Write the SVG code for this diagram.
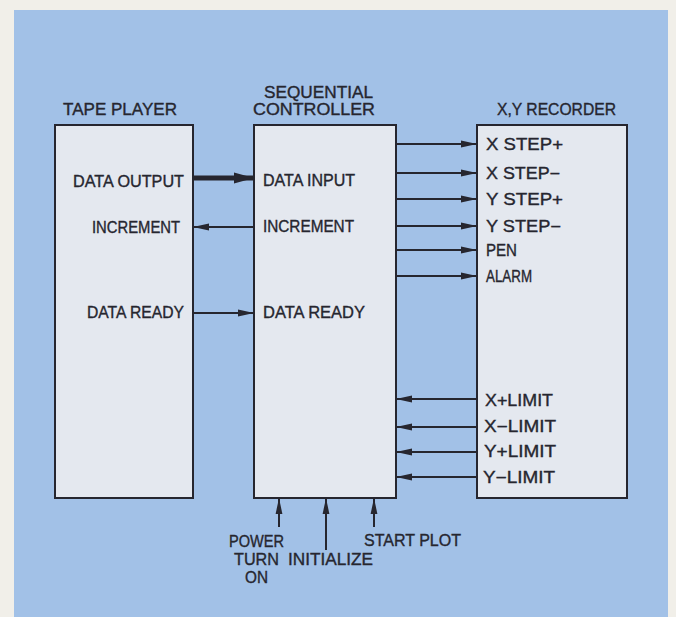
<svg xmlns="http://www.w3.org/2000/svg" width="676" height="617" viewBox="0 0 676 617">
<defs>
<style>
.box{fill:#e4e8ef;stroke:#26262f;stroke-width:2}
.ln{stroke:#26262f;stroke-width:2;fill:none}
.thick{stroke:#26262f;stroke-width:5;fill:none}
text{font-family:"Liberation Sans",Arial,sans-serif;font-size:16px;fill:#26262f;stroke:#26262f;stroke-width:0.35px}
</style>
<marker id="ah" markerUnits="userSpaceOnUse" markerWidth="18" markerHeight="10" refX="16" refY="4" orient="auto">
<path d="M0,0.6 L16,4 L0,7.4 z" fill="#26262f"/>
</marker>
<marker id="ahb" markerUnits="userSpaceOnUse" markerWidth="22" markerHeight="14" refX="20" refY="6" orient="auto">
<path d="M0,0.5 L20,6 L0,11.5 z" fill="#26262f"/>
</marker>
</defs>
<rect x="0" y="0" width="676" height="617" fill="#f1efe9"/>
<rect x="14" y="10" width="654" height="607" fill="#a2c1e7"/>

<g id="tape-player">
<text x="63" y="115" textLength="114" lengthAdjust="spacingAndGlyphs">TAPE PLAYER</text>
<rect class="box" x="55" y="125" width="138" height="373"/>
<text x="73" y="187" textLength="111" lengthAdjust="spacingAndGlyphs">DATA OUTPUT</text>
<text x="92" y="233" textLength="88" lengthAdjust="spacingAndGlyphs">INCREMENT</text>
<text x="87" y="318" textLength="97" lengthAdjust="spacingAndGlyphs">DATA READY</text>
</g>

<g id="sequential-controller">
<text x="264" y="98" textLength="109" lengthAdjust="spacingAndGlyphs">SEQUENTIAL</text>
<text x="253" y="115" textLength="122" lengthAdjust="spacingAndGlyphs">CONTROLLER</text>
<rect class="box" x="254" y="125" width="142" height="373"/>
<text x="263" y="186" textLength="92" lengthAdjust="spacingAndGlyphs">DATA INPUT</text>
<text x="263" y="232" textLength="91" lengthAdjust="spacingAndGlyphs">INCREMENT</text>
<text x="263" y="318" textLength="102" lengthAdjust="spacingAndGlyphs">DATA READY</text>
</g>

<g id="xy-recorder">
<text x="497" y="115" textLength="119" lengthAdjust="spacingAndGlyphs">X,Y RECORDER</text>
<rect class="box" x="477" y="125" width="150" height="373"/>
<text x="486" y="150" textLength="77" lengthAdjust="spacingAndGlyphs">X STEP+</text>
<text x="486" y="179" textLength="74" lengthAdjust="spacingAndGlyphs">X STEP−</text>
<text x="486" y="205" textLength="77" lengthAdjust="spacingAndGlyphs">Y STEP+</text>
<text x="486" y="232" textLength="75" lengthAdjust="spacingAndGlyphs">Y STEP−</text>
<text x="486" y="256" textLength="31" lengthAdjust="spacingAndGlyphs">PEN</text>
<text x="486" y="282" textLength="46" lengthAdjust="spacingAndGlyphs">ALARM</text>
<text x="485" y="406" textLength="68" lengthAdjust="spacingAndGlyphs">X+LIMIT</text>
<text x="484" y="432" textLength="72" lengthAdjust="spacingAndGlyphs">X−LIMIT</text>
<text x="484" y="457" textLength="72" lengthAdjust="spacingAndGlyphs">Y+LIMIT</text>
<text x="483" y="483" textLength="72" lengthAdjust="spacingAndGlyphs">Y−LIMIT</text>
</g>

<g id="inputs">
<text x="229" y="547" textLength="55" lengthAdjust="spacingAndGlyphs">POWER</text>
<text x="234" y="565" textLength="45" lengthAdjust="spacingAndGlyphs">TURN</text>
<text x="245" y="583" textLength="23" lengthAdjust="spacingAndGlyphs">ON</text>
<text x="288" y="565" textLength="85" lengthAdjust="spacingAndGlyphs">INITIALIZE</text>
<text x="364" y="546" textLength="97" lengthAdjust="spacingAndGlyphs">START PLOT</text>
</g>

<g id="connectors">
<line class="thick" x1="193" y1="178" x2="254" y2="178" marker-end="url(#ahb)"/>
<line class="ln" x1="254" y1="227" x2="193" y2="227" marker-end="url(#ah)"/>
<line class="ln" x1="193" y1="313" x2="254" y2="313" marker-end="url(#ah)"/>
<line class="ln" x1="396" y1="144" x2="477" y2="144" marker-end="url(#ah)"/>
<line class="ln" x1="396" y1="173" x2="477" y2="173" marker-end="url(#ah)"/>
<line class="ln" x1="396" y1="199" x2="477" y2="199" marker-end="url(#ah)"/>
<line class="ln" x1="396" y1="226" x2="477" y2="226" marker-end="url(#ah)"/>
<line class="ln" x1="396" y1="250" x2="477" y2="250" marker-end="url(#ah)"/>
<line class="ln" x1="396" y1="276" x2="477" y2="276" marker-end="url(#ah)"/>
<line class="ln" x1="477" y1="399" x2="396" y2="399" marker-end="url(#ah)"/>
<line class="ln" x1="477" y1="427" x2="396" y2="427" marker-end="url(#ah)"/>
<line class="ln" x1="477" y1="452" x2="396" y2="452" marker-end="url(#ah)"/>
<line class="ln" x1="477" y1="477" x2="396" y2="477" marker-end="url(#ah)"/>
<line class="ln" x1="279" y1="527" x2="279" y2="498" marker-end="url(#ah)"/>
<line class="ln" x1="326" y1="550" x2="326" y2="498" marker-end="url(#ah)"/>
<line class="ln" x1="374" y1="527" x2="374" y2="498" marker-end="url(#ah)"/>
</g>
</svg>
